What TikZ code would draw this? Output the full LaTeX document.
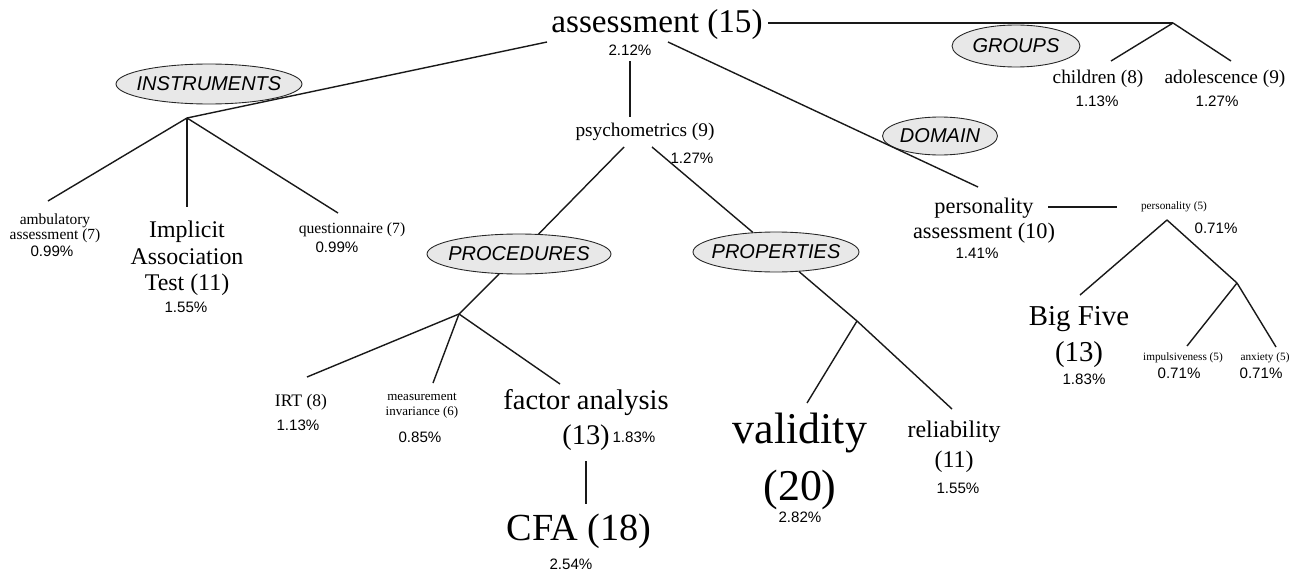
\documentclass[tikz,border=0pt]{standalone}
\usepackage{fontspec}
\setmainfont{Liberation Serif}
\setsansfont{Liberation Sans}
\usepackage{tikz}
\usetikzlibrary{calc,shapes.geometric}
\def\fsz#1#2{\fontsize{#1}{#2}\selectfont}
\tikzset{
	term/.style={inner sep=0pt, align=center},
	pct/.style={inner sep=0pt, anchor=base, font=\sffamily\fsz{8.6}{10}},
	facet/.style={ellipse, draw=black!85, line width=0.5pt, fill=black!9, inner sep=0pt, inner xsep=-3.8pt, minimum height=0.8cm, font=\sffamily\itshape\fsz{11.4}{13}},
	link/.style={line width=0.8pt, black!90}
}

\begin{document}
\begin{tikzpicture}[x=0.02cm, y=-0.02cm]
			%%%%% START %%%%%
			\useasboundingbox (0, 0) rectangle (1300, 571);
			
			% facets
			\node[facet, minimum width=3.72cm] (instr) at (209, 84) {INSTRUMENTS};
			\node[facet, minimum width=2.56cm, minimum height=0.84cm] (groups) at (1016, 46) {GROUPS};
			\node[facet, minimum width=2.3cm, minimum height=0.76cm] (domain) at (940, 136) {DOMAIN};
			\node[facet, minimum width=3.68cm] (proc) at (519, 254) {PROCEDURES};
			\node[facet, minimum width=3.32cm] (prop) at (776, 252) {PROPERTIES};
			
			% terms
			\node[term, anchor=base, font=\fsz{18.9}{22}] (root) at (657, 33) {assessment (15)};
			\node[pct] (rootp) at (630, 56) {2.12\%};
			
			\node[term, anchor=north, font=\fsz{8.8}{7.3}] (amb) at (55, 213) {ambulatory\\assessment (7)};
			\node[pct] (ambp) at (52, 256) {0.99\%};
			\node[term, anchor=north, font=\fsz{13.6}{15.1}] (iat) at (187, 220.6) {Implicit\\Association\\Test (11)};
			\node[pct] (iatp) at (186, 312) {1.55\%};
			\node[term, anchor=base, font=\fsz{8.9}{10}] (quest) at (352, 233) {questionnaire (7)};
			\node[pct] (questp) at (337, 252.5) {0.99\%};
			
			\node[term, anchor=base, font=\fsz{11}{13}] (psych) at (645, 136) {psychometrics (9)};
			\node[pct] (psychp) at (692, 163) {1.27\%};
			
			\node[term, anchor=base, font=\fsz{11}{13}] (child) at (1098, 84) {children (8)};
			\node[pct] (childp) at (1097, 106.5) {1.13\%};
			\node[term, anchor=base, font=\fsz{11}{13}] (adol) at (1225, 84) {adolescence (9)};
			\node[pct] (adolp) at (1217, 106.5) {1.27\%};
			
			\node[term, anchor=north, font=\fsz{12.7}{14.2}] (pers) at (984, 198) {personality\\assessment (10)};
			\node[pct] (persp) at (977, 258.5) {1.41\%};
			\node[term, anchor=base, font=\fsz{6.4}{7}] (pfive) at (1174, 209) {personality (5)};
			\node[pct] (pfivep) at (1216, 233.5) {0.71\%};
			\node[term, anchor=north, font=\fsz{16.4}{20.5}] (big) at (1079, 306) {Big Five\\(13)};
			\node[pct] (bigp) at (1084, 384.5) {1.83\%};
			\node[term, anchor=base, font=\fsz{6.4}{7}] (impul) at (1183, 360) {impulsiveness (5)};
			\node[pct] (impulp) at (1179, 378.5) {0.71\%};
			\node[term, anchor=base, font=\fsz{6.4}{7}] (anx) at (1265, 360) {anxiety (5)};
			\node[pct] (anxp) at (1261, 378.5) {0.71\%};
			
			\node[term, anchor=base, font=\fsz{10}{12}] (irt) at (301, 406) {IRT (8)};
			\node[pct] (irtp) at (298, 430.5) {1.13\%};
			\node[term, anchor=north, font=\fsz{7.4}{8.5}] (meas) at (422, 393) {measurement\\invariance (6)};
			\node[pct] (measp) at (420, 442.5) {0.85\%};
			\node[term, anchor=north, font=\fsz{16.2}{19.9}] (factor) at (586, 389.6) {factor analysis\\(13)};
			\node[pct] (factorp) at (634, 442.5) {1.83\%};
			\node[term, anchor=base, font=\fsz{21.8}{26}] (cfa) at (579, 540) {CFA (18)};
			\node[pct] (cfap) at (571, 569.5) {2.54\%};
			
			\node[term, anchor=north, font=\fsz{25}{32.4}] (valid) at (800, 413) {validity\\(20)};
			\node[pct] (validp) at (800, 522.5) {2.82\%};
			\node[term, anchor=north, font=\fsz{13.6}{17}] (reli) at (954, 420.6) {reliability\\(11)};
			\node[pct] (relip) at (958, 493.5) {1.55\%};
			
			% junctions
			\coordinate (jI) at (187, 118);
			\coordinate (jG) at (1173, 23);
			\coordinate (jP) at (459, 314);
			\coordinate (jR) at (857, 321);
			\coordinate (jB) at (1167, 220);
			\coordinate (jC) at (1237, 283);
			
			% links
			\draw[link] ($(root.base)+(-110, 9)$) -- (jI);
			\draw[link] (jI) -- ($(amb.north)+(-7, -12)$);
			\draw[link] (jI) -- ($(iat.north)+(0, -13.6)$);
			\draw[link] (jI) -- ($(quest.base)+(-14, -20)$);
			
			\draw[link] ($(rootp.south)+(0, 5)$) -- ($(psych.base)+(-15, -19)$);
			\draw[link] ($(root.base)+(11, 9)$) -- ($(pers.north)+(-6, -11)$);
			\draw[link] ($(root.base)+(111, -10)$) -- (jG);
			\draw[link] (jG) -- ($(child.base)+(13, -23)$);
			\draw[link] (jG) -- ($(adol.base)+(6, -23)$);
			
			\draw[link] ($(psych.base)+(-21, 11)$) -- (proc) -- (jP);
			\draw[link] (jP) -- ($(irt.base)+(6, -29)$);
			\draw[link] (jP) -- ($(meas.north)+(11, -10)$);
			\draw[link] (jP) -- ($(factor.north)+(-26, -5.6)$);
			\draw[link] ($(factor.south)+(0, 10)$) -- ($(cfa.base)+(7, -36)$);
			
			\draw[link] ($(psych.base)+(7, 11)$) -- (prop) -- (jR);
			\draw[link] (jR) -- ($(reli.north)+(-2, -11.6)$);
			\draw[link] (jR) -- ($(valid.north)+(7, -10)$);
			
			\draw[link] ($(pers.north)+(64, 9)$) -- ($(pfive.base)+(-57, -2)$);
			\draw[link] (jB) -- ($(big.north)+(1, -11)$);
			\draw[link] (jB) -- (jC);
			\draw[link] (jC) -- ($(impul.base)+(4, -14)$);
			\draw[link] (jC) -- ($(anx.base)+(11, -13)$);
			%%%%% END %%%%%
\end{tikzpicture}
\end{document}
